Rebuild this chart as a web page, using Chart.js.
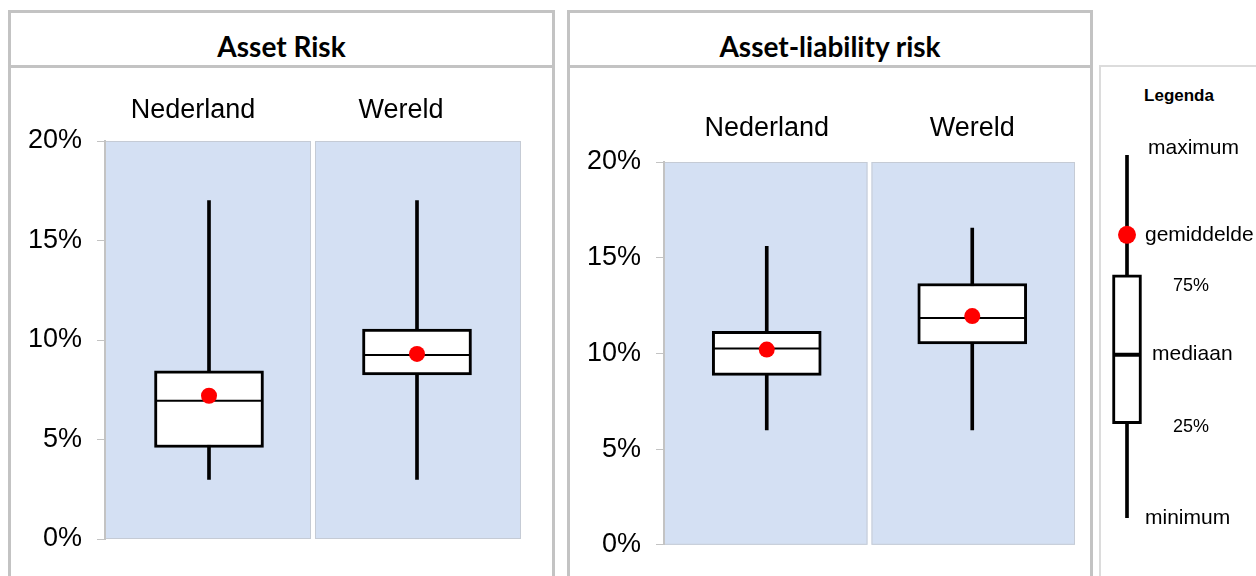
<!DOCTYPE html>
<html>
<head>
<meta charset="utf-8">
<script src="https://cdn.jsdelivr.net/npm/chart.js@4/dist/chart.umd.min.js"></script>
<style>
  body { margin: 0; width: 1256px; height: 576px; overflow: hidden; background: #fff; font-family: Arial, "Liberation Sans", sans-serif; }
  .panel { position: absolute; top: 10px; height: 600px; border: 3px solid #c3c3c3; box-sizing: border-box; }
  .title { height: 55px; box-sizing: border-box; border-bottom: 3px solid #c3c3c3; text-align: center;
           font-family: Lato, "Open Sans", sans-serif; font-weight: bold; font-size: 28px; padding-top: 12px; line-height: 42px; color: #000; }
  .legendbox { position: absolute; left: 1099px; top: 65px; width: 200px; height: 600px; border: 2px solid #dcdcdc; box-sizing: border-box; }
  .legendtitle { position: absolute; left: 1101px; width: 156px; top: 86px; text-align: center; font-weight: bold; font-size: 17px; }
  canvas { position: absolute; }
</style>
</head>
<body>
<div class="panel" style="left:8px; width:547px;"><div class="title">Asset Risk</div></div>
<div class="panel" style="left:567px; width:526px;"><div class="title">Asset-liability risk</div></div>
<div class="legendbox"></div>
<div class="legendtitle">Legenda</div>
<canvas id="assetChart" width="541" height="508" style="left:11px; top:68px;"></canvas>
<canvas id="almChart" width="519" height="508" style="left:570px; top:68px;"></canvas>
<canvas id="legendChart" width="155" height="509" style="left:1101px; top:67px;"></canvas>
<script>
const categories = ['Nederland', 'Wereld'];
const yTicks = [0, 5, 10, 15, 20];

// Asset risk, in %
const assetMin = [3.0, 3.0];
const assetQ1 = [4.6, 8.25];
const assetMedian = [6.95, 9.25];
const assetQ3 = [8.45, 10.55];
const assetMax = [17.0, 17.0];
const assetMean = [7.2, 9.3];

// Asset-liability risk, in %
const almMin = [6.0, 6.0];
const almQ1 = [8.85, 10.5];
const almMedian = [10.25, 11.85];
const almQ3 = [11.15, 13.65];
const almMax = [15.6, 16.55];
const almMean = [10.2, 11.95];

// legend: one example box on a 0..100 scale
const legendLabels = ['maximum', 'gemiddelde', '75%', 'mediaan', '25%', 'minimum'];
const legendValues = [100, 78, 67, 45, 26, 0];

const font = 'Arial, "Liberation Sans", sans-serif';

const panelBackground = {
    id: 'panelBackground',
    beforeDraw(chart) {
        const ctx = chart.ctx;
        const a = chart.chartArea;
        const n = chart.data.labels.length;
        const w = (a.right - a.left) / n;
        ctx.save();
        for (let i = 0; i < n; i++) {
            const x0 = a.left + i * w + (i > 0 ? 2 : 0);
            const x1 = a.left + (i + 1) * w - (i < n - 1 ? 2 : 0);
            ctx.fillStyle = '#d4e0f3';
            ctx.fillRect(x0, a.top, x1 - x0, a.bottom - a.top);
            ctx.strokeStyle = '#c5cbd5';
            ctx.lineWidth = 1;
            ctx.strokeRect(x0 + 0.5, a.top + 0.5, x1 - x0 - 1, a.bottom - a.top - 1);
        }
        ctx.restore();
    }
};

function boxDatasets(mins, q1s, medians, q3s, maxs, means, s) {
    return [
        {
            type: 'bar',
            data: mins.map((m, i) => [m, maxs[i]]),
            backgroundColor: '#000',
            barThickness: s.whisker,
            grouped: false,
            order: 4
        },
        {
            type: 'bar',
            data: q1s.map((q, i) => [q, q3s[i]]),
            backgroundColor: '#fff',
            borderColor: '#000',
            borderWidth: 3,
            borderSkipped: false,
            barThickness: s.box,
            grouped: false,
            order: 3
        },
        {
            type: 'line',
            data: medians,
            showLine: false,
            pointStyle: 'line',
            pointRadius: s.box / 2 - 1,
            borderColor: '#000',
            pointBorderColor: '#000',
            pointBorderWidth: s.median,
            order: 2
        },
        {
            type: 'line',
            data: means,
            showLine: false,
            pointStyle: 'circle',
            pointRadius: s.dot,
            pointBackgroundColor: '#ff0000',
            pointBorderColor: '#ff0000',
            pointBorderWidth: 0,
            order: 1
        }
    ];
}

function makeRiskChart(id, data, s) {
    return new Chart(document.getElementById(id), {
        type: 'bar',
        data: {
            labels: categories,
            datasets: boxDatasets(data.min, data.q1, data.median, data.q3, data.max, data.mean,
                { whisker: 3, box: 109, median: 2, dot: 8 })
        },
        options: {
            responsive: false,
            animation: false,
            events: [],
            layout: { autoPadding: false, padding: { left: 0, top: 0, right: s.right, bottom: s.bottom } },
            plugins: { legend: { display: false }, tooltip: { enabled: false } },
            scales: {
                x: {
                    position: 'top',
                    grid: { display: false, drawTicks: false },
                    border: { display: false },
                    ticks: { color: '#000', font: { family: font, size: 27 }, padding: s.labelPad, labelOffset: s.labelOffset },
                    afterFit(scale) { scale.height = s.top; }
                },
                y: {
                    min: 0,
                    max: 20,
                    afterBuildTicks(scale) { scale.ticks = yTicks.map(v => ({ value: v })); },
                    grid: { drawOnChartArea: false, drawTicks: true, tickLength: 8, color: '#c3c3c3' },
                    border: { display: true, color: '#c3c3c3', width: 2 },
                    ticks: { color: '#000', font: { family: font, size: 27 }, padding: 15, callback: v => v + '%' },
                    afterFit(scale) { scale.width = 94; }
                }
            }
        },
        plugins: [panelBackground]
    });
}

makeRiskChart('assetChart',
    { min: assetMin, q1: assetQ1, median: assetMedian, q3: assetQ3, max: assetMax, mean: assetMean },
    { right: 31, bottom: 37, top: 73, labelPad: 14, labelOffset: -16 });

makeRiskChart('almChart',
    { min: almMin, q1: almQ1, median: almMedian, q3: almQ3, max: almMax, mean: almMean },
    { right: 14, bottom: 31, top: 94, labelPad: 17, labelOffset: 0 });

// where each legend text sits next to the example box
const legendTextStyle = [
    { x: 47, dy: -7, size: 21 },
    { x: 44, dy: 0, size: 21 },
    { x: 72, dy: 11, size: 18 },
    { x: 51, dy: 0, size: 21 },
    { x: 72, dy: 3, size: 18 },
    { x: 44, dy: 0, size: 21 }
];

const legendText = {
    id: 'legendText',
    afterDraw(chart) {
        const ctx = chart.ctx;
        const y = chart.scales.y;
        ctx.save();
        ctx.fillStyle = '#000';
        ctx.textBaseline = 'middle';
        ctx.textAlign = 'left';
        legendLabels.forEach((t, i) => {
            const st = legendTextStyle[i];
            ctx.font = st.size + 'px ' + font;
            ctx.fillText(t, st.x, y.getPixelForValue(legendValues[i]) + st.dy);
        });
        ctx.restore();
    }
};

new Chart(document.getElementById('legendChart'), {
    type: 'bar',
    data: {
        labels: [''],
        datasets: boxDatasets([legendValues[5]], [legendValues[4]], [legendValues[3]],
            [legendValues[2]], [legendValues[0]], [legendValues[1]],
            { whisker: 3, box: 29, median: 4, dot: 9 })
    },
    options: {
        responsive: false,
        animation: false,
        events: [],
        layout: { autoPadding: false, padding: { left: 0, top: 88, right: 103, bottom: 58 } },
        plugins: { legend: { display: false }, tooltip: { enabled: false } },
        scales: {
            x: { display: false },
            y: { display: false, min: 0, max: 100 }
        }
    },
    plugins: [legendText]
});
</script>
</body>
</html>
